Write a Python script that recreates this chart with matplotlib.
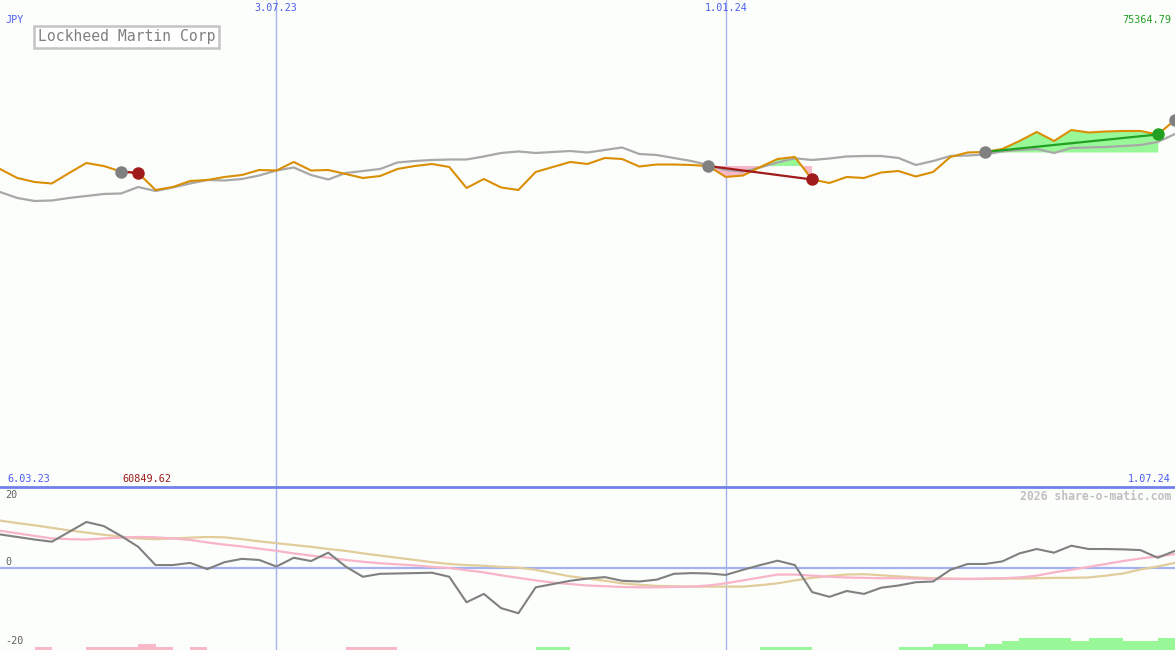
import matplotlib
matplotlib.use('Agg')
import matplotlib.pyplot as plt
from matplotlib.lines import Line2D
import numpy as np
import pandas as pd

# weekly closes (JPY) and the smoothed trend line
weeks = pd.date_range('2023-03-13', periods=69, freq='7D')

price = [70328, 70060, 69940, 69896, 70209, 70507, 70417, 70253, 70209, 69702,
         69791, 69970, 70000, 70090, 70149, 70298, 70283, 70537, 70283, 70298,
         70179, 70060, 70119, 70328, 70417, 70477, 70388, 69762, 70030, 69777,
         69702, 70239, 70388, 70537, 70477, 70656, 70626, 70402, 70462, 70462,
         70447, 70417, 70090, 70134, 70388, 70626, 70686, 70015, 69911, 70090,
         70060, 70224, 70268, 70104, 70239, 70686, 70820, 70835, 70924, 71162,
         71431, 71162, 71490, 71416, 71446, 71461, 71461, 71356, 71788]

trend = [69642, 69464, 69374, 69389, 69464, 69523, 69583, 69598, 69791, 69672,
         69777, 69896, 70000, 69985, 70030, 70134, 70283, 70373, 70149, 70015,
         70209, 70268, 70328, 70522, 70566, 70596, 70611, 70611, 70701, 70805,
         70850, 70805, 70835, 70864, 70820, 70894, 70969, 70775, 70745, 70656,
         70566, 70447, 70298, 70253, 70373, 70522, 70647, 70596, 70641, 70701,
         70715, 70715, 70656, 70447, 70566, 70715, 70730, 70760, 70850, 70894,
         70924, 70805, 70954, 70969, 70984, 71013, 71043, 71133, 71371]

# lower panel indicators
momentum = [9.2, 8.5, 7.8, 7.2, 9.9, 12.6, 11.5, 8.8, 5.8, 0.8,
            0.8, 1.4, -0.3, 1.6, 2.5, 2.2, 0.4, 2.8, 1.9, 4.2,
            0.4, -2.4, -1.6, -1.5, -1.4, -1.3, -2.4, -9.4, -7.1, -11.0,
            -12.4, -5.3, -4.4, -3.5, -2.9, -2.5, -3.5, -3.7, -3.2, -1.6,
            -1.4, -1.5, -1.9, -0.5, 0.8, 2.0, 0.8, -6.6, -7.9, -6.3,
            -7.1, -5.4, -4.8, -3.9, -3.7, -0.5, 1.1, 1.1, 1.8, 4.0,
            5.2, 4.2, 6.1, 5.2, 5.2, 5.1, 4.9, 2.8, 4.7]

sig_pink = [10.2, 9.5, 8.8, 8.1, 7.9, 7.8, 8.1, 8.3, 8.5, 8.4,
            8.1, 7.7, 7.0, 6.4, 5.9, 5.3, 4.7, 4.0, 3.4, 2.8,
            2.2, 1.7, 1.3, 1.0, 0.7, 0.3, 0.0, -0.6, -1.2, -2.0,
            -2.7, -3.4, -4.0, -4.4, -4.8, -5.0, -5.2, -5.3, -5.3, -5.2,
            -5.1, -4.8, -4.2, -3.4, -2.6, -1.8, -1.8, -2.1, -2.4, -2.6,
            -2.7, -2.8, -2.8, -2.9, -3.0, -3.0, -3.0, -2.9, -2.8, -2.6,
            -2.1, -1.2, -0.5, 0.3, 1.1, 1.9, 2.6, 3.2, 3.8]

sig_tan = [13.0, 12.3, 11.7, 11.0, 10.3, 9.7, 9.1, 8.6, 8.1, 7.9,
           8.1, 8.3, 8.5, 8.4, 7.9, 7.3, 6.8, 6.3, 5.8, 5.2,
           4.7, 4.0, 3.4, 2.8, 2.2, 1.6, 1.1, 0.8, 0.6, 0.3,
           0.1, -0.5, -1.4, -2.3, -2.9, -3.5, -4.2, -4.6, -4.9, -5.0,
           -5.1, -5.1, -5.1, -5.1, -4.7, -4.2, -3.4, -2.7, -2.2, -1.8,
           -1.7, -2.0, -2.3, -2.6, -2.8, -2.9, -3.0, -3.0, -2.9, -2.9,
           -2.8, -2.7, -2.7, -2.6, -2.1, -1.5, -0.4, 0.4, 1.4]

# weekly strength bars: + green, - pink
bar_level = [0, 0, -1, 0, 0, -1, -1, -1, -2, -1,
             0, -1, 0, 0, 0, 0, 0, 0, 0, 0,
             -1, -1, -1, 0, 0, 0, 0, 0, 0, 0,
             0, 1, 1, 0, 0, 0, 0, 0, 0, 0,
             0, 0, 0, 0, 1, 1, 1, 0, 0, 0,
             0, 0, 1, 1, 2, 2, 1, 2, 3, 4,
             4, 4, 3, 4, 4, 3, 3, 4]
bar_unit = 0.82

# trades: (entry week, exit week)
trades = [(7, 8), (41, 47), (57, 67)]
open_entry = 68

y_min, y_max = 60849.62, 75364.79

BG = '#fcfefb'
BLUE_TXT = '#4a5ef0'
GRID = '#a4b2f2'
ORANGE = '#d98e04'
GRAY = '#a8a8a8'
RED = '#a01c1c'
GREEN = '#22a022'
MONO = 'DejaVu Sans Mono'

W, H = 1175, 650
fig = plt.figure(figsize=(W / 100, H / 100), dpi=100, facecolor=BG)
split = 1 - 487 / H
ax = fig.add_axes([0, split, 1, 1 - split], facecolor=BG)
ax2 = fig.add_axes([0, 0, 1, split], facecolor=BG)

for a in (ax, ax2):
    a.set_xlim(weeks[0], weeks[-1])
    a.set_axis_off()
    for d in ('2023-07-03', '2024-01-01'):
        a.axvline(pd.Timestamp(d), color=GRID, lw=1, zorder=1)

ax.set_ylim(y_min, y_max)
ax2.set_ylim(-22.47, 22.19)

# --- main panel ---
p = np.array(price, dtype=float)
for e, x in trades:
    xs = weeks[e:x + 1]
    seg = p[e:x + 1]
    entry = p[e]
    ax.fill_between(xs, entry, seg, where=seg >= entry, interpolate=True,
                    color='#98f898', lw=0, zorder=2)
    ax.fill_between(xs, entry, seg, where=seg <= entry, interpolate=True,
                    color='#f8b8c8', lw=0, zorder=2)

ax.plot(weeks, trend, color=GRAY, lw=1.6, zorder=3)
ax.plot(weeks, price, color=ORANGE, lw=1.5, zorder=4)

for e, x in trades:
    c = GREEN if p[x] > p[e] else RED
    ax.plot([weeks[e], weeks[x]], [p[e], p[x]], color=c, lw=1.6, zorder=5)
    ax.plot(weeks[e], p[e], 'o', color='#808080', ms=9, mec='none', zorder=6)
    ax.plot(weeks[x], p[x], 'o', color=c, ms=9, mec='none', zorder=6)
ax.plot(weeks[open_entry], p[open_entry], 'o', color='#808080', ms=9,
        mec='none', zorder=6, clip_on=False)

# --- lower panel ---
ax2.axhline(0, color=GRID, lw=1.6, zorder=1)
lv = np.array(bar_level)
ax2.bar(weeks[:-1], np.abs(lv) * bar_unit, width=7, align='edge', bottom=-22.47,
        color=np.where(lv > 0, '#98f898', '#f8b8c8'), lw=0, zorder=2)
ax2.plot(weeks, sig_tan, color='#e2cc9c', lw=1.6, zorder=3)
ax2.plot(weeks, sig_pink, color='#f8b4c8', lw=1.6, zorder=3)
ax2.plot(weeks, momentum, color='#808080', lw=1.5, zorder=4)

fig.add_artist(Line2D([0, 1], [split, split], transform=fig.transFigure,
                      color='#7082ea', lw=2))


def px(x, y):
    return x / W, 1 - y / H


small = dict(family=MONO, fontsize=7.3, va='center')
fig.text(*px(5, 20), 'JPY', color=BLUE_TXT, ha='left', **small)
fig.text(*px(276, 8), '3.07.23', color=BLUE_TXT, ha='center', **small)
fig.text(*px(726, 8), '1.01.24', color=BLUE_TXT, ha='center', **small)
fig.text(*px(1171, 20), '75364.79', color=GREEN, ha='right', **small)
fig.text(*px(7, 479), '6.03.23', color=BLUE_TXT, ha='left', **small)
fig.text(*px(122, 479), '60849.62', color=RED, ha='left', **small)
fig.text(*px(1171, 479), '1.07.24', color=BLUE_TXT, ha='right', **small)
fig.text(*px(5, 495), '20', color='#606060', ha='left', **small)
fig.text(*px(5, 562), '0', color='#606060', ha='left', **small)
fig.text(*px(5, 641), '-20', color='#606060', ha='left', **small)
fig.text(*px(1171, 496), '2026 share-o-matic.com', color='#c0c0c0',
         ha='right', va='center', family=MONO, fontsize=8.3, fontweight='bold')

fig.text(*px(38, 37), 'Lockheed Martin Corp', color='#808080', ha='left',
         va='center', family=MONO, fontsize=10.6,
         bbox=dict(boxstyle='square,pad=0.25', fc='white', ec='#c4c4c4', lw=1.8))

fig.savefig('out.png', dpi=100, facecolor=BG)
